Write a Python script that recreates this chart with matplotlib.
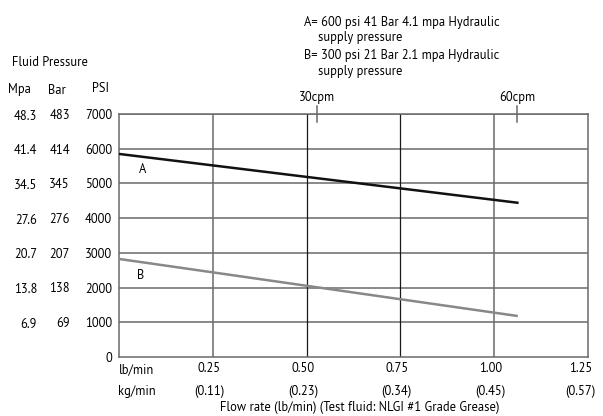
import matplotlib
matplotlib.use("Agg")
import matplotlib.pyplot as plt
from matplotlib.transforms import blended_transform_factory

# ---- data ----
psi_ticks = [0, 1000, 2000, 3000, 4000, 5000, 6000, 7000]
bar_labels = ["", "69", "138", "207", "276", "345", "414", "483"]
mpa_labels = ["", "6.9", "13.8", "20.7", "27.6", "34.5", "41.4", "48.3"]
flow_lb = [0.25, 0.50, 0.75, 1.00, 1.25]
flow_lb_labels = ["0.25", "0.50", "0.75", "1.00", "1.25"]
flow_kg_labels = ["(0.11)", "(0.23)", "(0.34)", "(0.45)", "(0.57)"]
a_flow = [0.0, 1.065]
a_psi = [5850, 4440]
b_flow = [0.0, 1.063]
b_psi = [2825, 1180]
cpm_flow = [0.528, 1.061]
cpm_labels = ["30cpm", "60cpm"]

plt.rcParams['font.family'] = ['PT Sans', 'DejaVu Sans']
W, H = 603, 416
fig = plt.figure(figsize=(W / 100, H / 100), dpi=100)
L, R, T, B = 119, 588, 114, 357
ax = fig.add_axes([L / W, 1 - B / H, (R - L) / W, (B - T) / H])
ax.set_xlim(0, 1.25)
ax.set_ylim(0, 7000)

grey = "#6a6a6a"
fs = 9.0

# grid
for y in psi_ticks[1:]:
    ax.axhline(y, color=grey, lw=1.1, zorder=1)
for x, c in zip(flow_lb[:-1], [grey, "#1a1a1a", "#1a1a1a", grey]):
    ax.axvline(x, color=c, lw=1.1 if c == grey else 0.9, zorder=1)
for s in ax.spines.values():
    s.set_color(grey)
    s.set_linewidth(1.1)

# lines
ax.plot(a_flow, a_psi, color="#111111", lw=1.8, zorder=3, solid_capstyle='butt')
ax.plot(b_flow, b_psi, color="#888888", lw=1.8, zorder=3, solid_capstyle='butt')
ax.text(0.064, 5390, "A", fontsize=fs, ha="center", va="center")
ax.text(0.058, 2360, "B", fontsize=fs, ha="center", va="center")

# cpm markers
for x, lab in zip(cpm_flow, cpm_labels):
    ax.plot([x, x], [6770, 7230], color=grey, lw=1.1, clip_on=False, zorder=4)
    ax.text(x, 7300, lab, fontsize=fs, ha="center", va="bottom")

# y ticks (PSI)
ax.set_yticks(psi_ticks)
ax.set_yticklabels([str(v) for v in psi_ticks], fontsize=fs)
ax.tick_params(axis="y", length=0, pad=5)
ax.set_xticks([])

tr = blended_transform_factory(fig.transFigure, ax.transData)
for y, m, b in zip(psi_ticks, mpa_labels, bar_labels):
    fig.text(37 / W, y - 60, m, transform=tr, fontsize=fs, ha="right", va="center")
    fig.text(70 / W, y - 40, b, transform=tr, fontsize=fs, ha="right", va="center")

# headers
fig.text(8 / W, 1 - 90 / H, "Mpa", fontsize=fs, ha="left", va="center")
fig.text(48 / W, 1 - 90 / H, "Bar", fontsize=fs, ha="left", va="center")
fig.text(92 / W, 1 - 89 / H, "PSI", fontsize=fs, ha="left", va="center")
fig.text(12 / W, 1 - 62 / H, "Fluid Pressure", fontsize=fs, ha="left", va="center")

# x labels
trx = blended_transform_factory(ax.transData, fig.transFigure)
fig.text(136 / W, 1 - 370 / H, "lb/min", fontsize=fs, ha="center", va="center")
fig.text(137 / W, 1 - 392 / H, "kg/min", fontsize=fs, ha="center", va="center")
for x, l1, l2 in zip(flow_lb, flow_lb_labels, flow_kg_labels):
    dx = -0.02 if x == 1.25 else -0.01
    ax.text(x + dx, 1 - 369 / H, l1, transform=trx, fontsize=fs, ha="center", va="center")
    ax.text(x + dx, 1 - 391 / H, l2, transform=trx, fontsize=fs, ha="center", va="center")
fig.text(360 / W, 1 - 408 / H, "Flow rate (lb/min) (Test fluid: NLGI #1 Grade Grease)",
         fontsize=fs, ha="center", va="center")

# legend text
fig.text(304 / W, 1 - 22 / H, "A= 600 psi 41 Bar 4.1 mpa Hydraulic", fontsize=fs, ha="left", va="center")
fig.text(318 / W, 1 - 38 / H, "supply pressure", fontsize=fs, ha="left", va="center")
fig.text(304 / W, 1 - 56 / H, "B= 300 psi 21 Bar 2.1 mpa Hydraulic", fontsize=fs, ha="left", va="center")
fig.text(318 / W, 1 - 72 / H, "supply pressure", fontsize=fs, ha="left", va="center")

fig.savefig("out.png", dpi=100)
